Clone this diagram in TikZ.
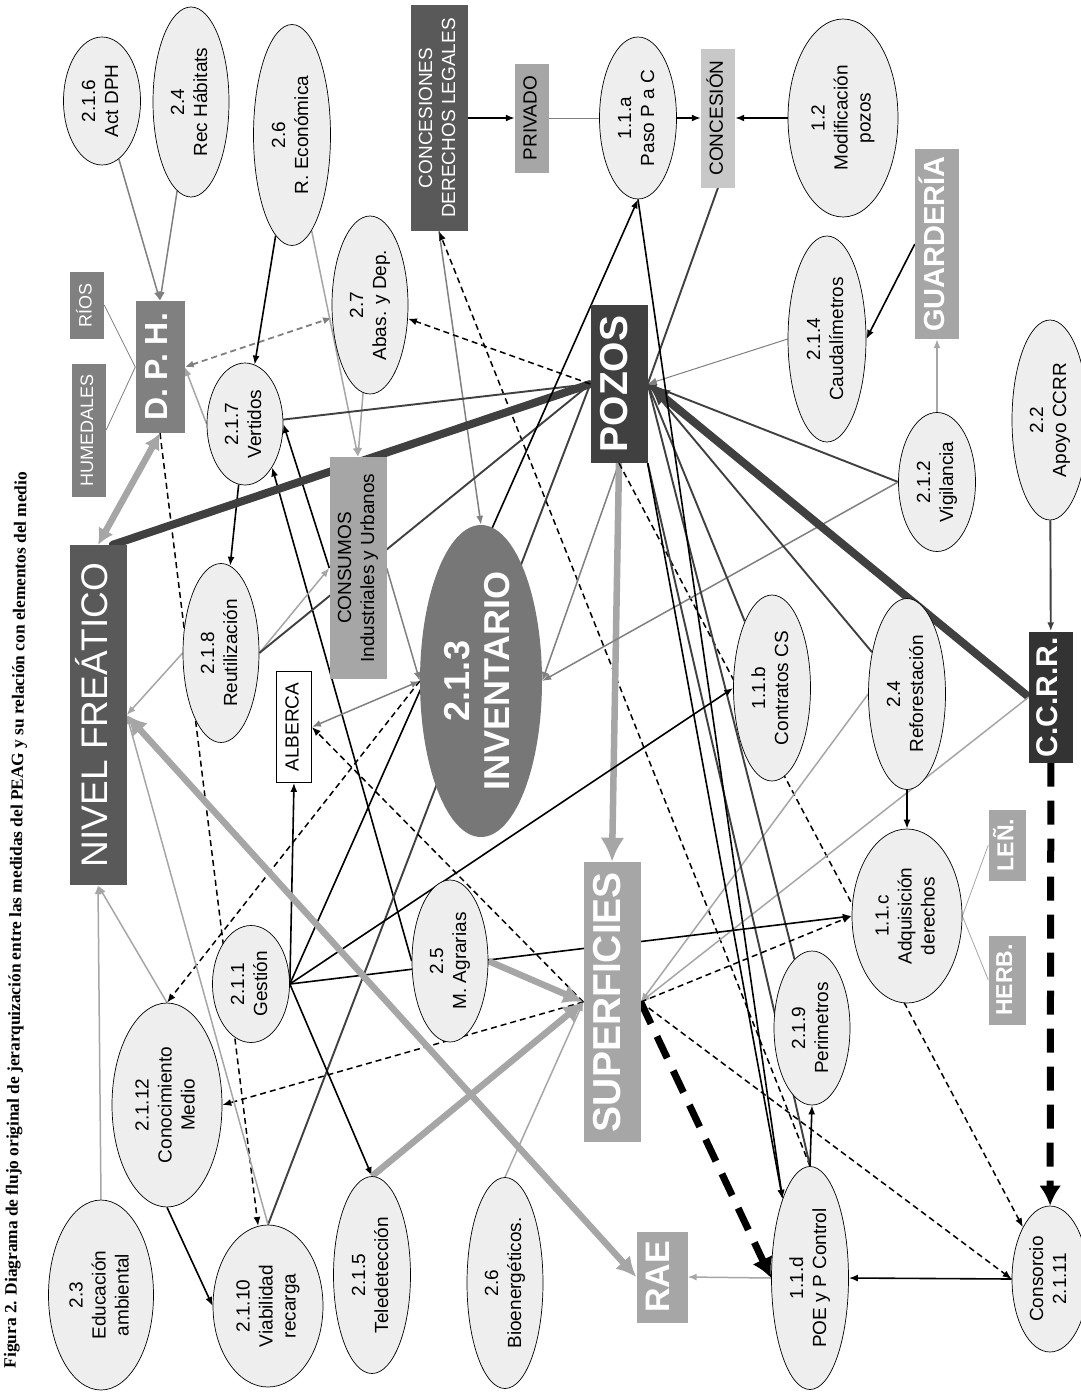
\documentclass[tikz,border=0pt]{standalone}
\usepackage{fontspec}
\setmainfont{Liberation Sans}
\newfontfamily\serifcap{Liberation Serif}
\usepackage{graphicx}
\usetikzlibrary{shapes.geometric,arrows.meta,backgrounds}

\definecolor{relleno}{HTML}{EEEEEE}
\definecolor{gris20}{HTML}{333333}
\definecolor{gris25}{HTML}{404040}
\definecolor{gris35}{HTML}{595959}
\definecolor{gris47}{HTML}{777777}
\definecolor{gris50}{HTML}{808080}
\definecolor{gris65}{HTML}{A6A6A6}
\definecolor{gris80}{HTML}{C8C8C8}

% texto girado, varias lineas
\newcommand{\giro}[1]{\rotatebox{90}{\begin{tabular}{@{}c@{}}#1\end{tabular}}}

\tikzset{
  medida/.style={ellipse, draw=black, line width=0.7pt, fill=relleno, inner sep=0pt, font=\fontsize{19}{23}\selectfont},
  caja/.style={rectangle, inner sep=0pt, font=\fontsize{19}{23}\selectfont},
  rotulo/.style={rectangle, inner sep=0pt, text=white},
  punta/.style={-{Latex[length=9pt,width=7pt]}},
  negra/.style={draw=black, line width=1.6pt, punta},
  oscura/.style={draw=gris25, line width=1.9pt},
  media/.style={draw=gris50, line width=1.5pt},
  clara/.style={draw=gris65, line width=1.5pt},
  discont/.style={draw=black, line width=1.5pt, dash pattern=on 6pt off 4pt},
  ancha/.style={draw=gris65, line width=6.5pt},
  gruesa/.style={draw=gris25, line width=8pt},
  disgruesa/.style={draw=black, line width=7pt, dash pattern=on 24pt off 14pt},
}

\begin{document}
\begin{tikzpicture}[x=1pt,y=-1pt]
  \useasboundingbox (0,0) rectangle (1081,1392);

  % pie de figura
  \node[rotate=89.3, font=\serifcap\bfseries\fontsize{17.3}{19}\selectfont] (titulo) at (17,920)
    {Figura 2. Diagrama de flujo original de jerarquización entre las medidas del PEAG y su relación con elementos del medio};

  % fila superior
  \node[medida, minimum width=77, minimum height=128] (act216) at (102,101) {\giro{2.1.6\\Act DPH}};
  \node[medida, minimum width=76, minimum height=190] (rec24) at (191,102) {\giro{2.4\\Rec Hábitats}};
  \node[medida, minimum width=77, minimum height=221] (reco26) at (292,135) {\giro{2.6\\R. Económica}};
  \node[medida, minimum width=76, minimum height=178] (abas27) at (370,305) {\giro{2.7\\Abas. y Dep.}};
  \node[caja, fill=gris35, text=white, minimum width=57, minimum height=226] (concesiones) at (439,118) {\giro{CONCESIONES\\DERECHOS LEGALES}};
  \node[caja, fill=gris65, minimum width=34, minimum height=109] (privado) at (532,118) {\giro{PRIVADO}};
  \node[medida, minimum width=77, minimum height=162] (paso) at (638,118) {\giro{1.1.a\\Paso P a C}};
  \node[caja, fill=gris80, minimum width=34, minimum height=139] (concesion) at (718,118) {\giro{CONCESIÓN}};
  \node[medida, minimum width=110, minimum height=198] (modif) at (843,118) {\giro{1.2\\Modificación\\pozos}};
  \node[rotulo, fill=gris65, minimum width=44, minimum height=190, font=\bfseries\fontsize{29}{33}\selectfont] (guarderia) at (937,244) {\giro{GUARDERÍA}};
  \node[medida, minimum width=78, minimum height=206] (caudal) at (827,339) {\giro{2.1.4\\Caudalímetros}};

  % D.P.H. y elementos del medio
  \node[caja, fill=gris50, text=white, minimum width=34, minimum height=67, font=\fontsize{18}{21}\selectfont] (rios) at (87,305) {\giro{RÍOS}};
  \node[caja, fill=gris50, text=white, minimum width=34, minimum height=133, font=\fontsize{18}{21}\selectfont] (humedales) at (89,430) {\giro{HUMEDALES}};
  \node[rotulo, fill=gris50, minimum width=49, minimum height=132, font=\bfseries\fontsize{32}{36}\selectfont] (dph) at (160,367) {\giro{D. P. H.}};
  \node[rotulo, fill=gris35, minimum width=57, minimum height=340, font=\fontsize{37}{42}\selectfont] (nivel) at (98,715) {\giro{NIVEL FREÁTICO}};
  \node[medida, minimum width=76, minimum height=122] (vert217) at (245,424) {\giro{2.1.7\\Vertidos}};
  \node[medida, minimum width=76, minimum height=179] (reut218) at (221,653) {\giro{2.1.8\\Reutilización}};
  \node[caja, fill=gris65, minimum width=57, minimum height=222] (consumos) at (358,568) {\giro{CONSUMOS\\Industriales y Urbanos}};
  \node[caja, fill=white, draw=black, line width=0.8pt, minimum width=35, minimum height=111] (alberca) at (294,727) {\giro{ALBERCA}};

  % centro
  \node[rotulo, fill=gris25, minimum width=57, minimum height=158, font=\bfseries\fontsize{39}{44}\selectfont] (pozos) at (619,384) {\giro{POZOS}};
  \node[ellipse, fill=gris47, text=white, inner sep=0pt, minimum width=122, minimum height=312, font=\bfseries\fontsize{36}{40}\selectfont] (invent) at (481,681) {\giro{2.1.3\\INVENTARIO}};
  \node[rotulo, fill=gris65, minimum width=57, minimum height=280, font=\bfseries\fontsize{39}{44}\selectfont] (superf) at (612,1002) {\giro{SUPERFICIES}};

  % lado derecho
  \node[medida, minimum width=77, minimum height=139] (vigil) at (937,482) {\giro{2.1.2\\Vigilancia}};
  \node[medida, minimum width=76, minimum height=200] (apoyo) at (1050,420) {\giro{2.2\\Apoyo CCRR}};
  \node[rotulo, fill=gris20, minimum width=44, minimum height=131, font=\bfseries\fontsize{30}{34}\selectfont] (ccrr) at (1051,697) {\giro{C.C.R.R.}};
  \node[medida, minimum width=77, minimum height=186] (contr) at (772,688) {\giro{1.1.b\\Contratos CS}};
  \node[medida, minimum width=77, minimum height=191] (refor) at (907,694) {\giro{2.4\\Reforestación}};
  \node[medida, minimum width=110, minimum height=174] (adqu) at (907,916) {\giro{1.1.c\\Adquisición\\derechos}};
  \node[rotulo, fill=gris65, minimum width=37, minimum height=71, font=\bfseries\fontsize{23}{26}\selectfont] (lena) at (1007,845) {\giro{LEÑ.}};
  \node[rotulo, fill=gris65, minimum width=37, minimum height=89, font=\bfseries\fontsize{23}{26}\selectfont] (herb) at (1007,980) {\giro{HERB.}};
  \node[medida, minimum width=76, minimum height=154] (perim) at (812,1028) {\giro{2.1.9\\Perimetros}};

  % fila inferior
  \node[medida, minimum width=77, minimum height=117] (gest) at (251,984) {\giro{2.1.1\\Gestión}};
  \node[medida, minimum width=76, minimum height=162] (agrar) at (450,961) {\giro{2.5\\M. Agrarias}};
  \node[medida, minimum width=110, minimum height=204] (conoc) at (167,1105) {\giro{2.1.12\\Conocimiento\\Medio}};
  \node[medida, minimum width=105, minimum height=190] (educ) at (101,1295) {\giro{2.3\\Educación\\ambiental}};
  \node[medida, minimum width=110, minimum height=162] (viab) at (268,1306) {\giro{2.1.10\\Viabilidad\\recarga}};
  \node[medida, minimum width=77, minimum height=197] (tele) at (372,1275) {\giro{2.1.5\\Teledetección}};
  \node[medida, minimum width=76, minimum height=211] (bioen) at (505,1283) {\giro{2.6\\Bioenergéticos.}};
  \node[rotulo, fill=gris65, minimum width=51, minimum height=91, font=\bfseries\fontsize{34}{38}\selectfont] (rae) at (662,1277) {\giro{RAE}};
  \node[medida, minimum width=77, minimum height=223] (poe) at (810,1278) {\giro{1.1.d\\POE y P Control}};
  \node[medida, minimum width=76, minimum height=146] (consor) at (1050,1279) {\giro{Consorcio\\2.1.11}};

  \begin{scope}[on background layer]
    \fill[white] (0,0) rectangle (1081,1392);
    % fila superior
    \draw[negra] (concesiones) -- (privado);
    \draw[media, line width=1pt] (privado) -- (paso);
    \draw[negra] (paso) -- (concesion);
    \draw[negra] (modif) -- (concesion);
    \draw[oscura] (concesion.south) -- (pozos.east);
    \draw[media, punta] (concesiones.south) -- (invent.north);
    \draw[discont, punta] (poe.north) -- (concesiones.south);

    % D.P.H.
    \draw[media, punta] (act216) -- (dph.north);
    \draw[media, punta] (rec24) -- (dph.north);
    \draw[media, line width=0.8pt] (rios.east) -- (dph.west);
    \draw[media, line width=0.8pt] (humedales.east) -- (dph.west);
    \draw[media, line width=1.8pt, dash pattern=on 6pt off 4pt, {Latex[length=9pt,width=7pt]}-{Latex[length=9pt,width=7pt]}] (dph.east) -- (abas27);
    \draw[clara, punta] (vert217.west) -- (dph.east);
    \draw[discont, punta] (dph.south) -- (viab);
    \draw[ancha, {Latex[length=16pt,width=17pt]}-{Latex[length=16pt,width=17pt]}] (nivel.north) -- (dph.south);

    % vertidos y consumos
    \draw[negra] (reco26) -- (vert217);
    \draw[clara, punta] (reco26) -- (consumos.north);
    \draw[clara, punta] (abas27) -- (consumos.north);
    \draw[negra] (vert217) -- (reut218);
    \draw[negra] (consumos.west) -- (vert217.east);
    \draw[negra] (agrar.west) -- (vert217.south east);
    \draw[clara, punta] (reut218.east) -- (consumos.west);
    \draw[clara, punta] (reut218.west) -- (nivel.east);
    \draw[media, punta] (consumos.east) -- (invent.west);

    % pozos
    \draw[gruesa, line cap=round] ([xshift=-14pt]nivel.north east) -- (pozos.west);
    \draw[oscura] (pozos.west) -- (vert217);
    \draw[oscura] (pozos.west) -- (reut218.east);
    \draw[oscura] (pozos.west) -- (viab.north);
    \draw[discont, punta] (pozos.west) -- (abas27);
    \draw[media, punta] (pozos.south) -- (invent.east);
    \draw[ancha, -{Latex[length=24pt,width=24pt]}] (pozos.south) -- (superf.north);
    \draw[discont, punta] (pozos.south) -- (consor.north west);
    \draw[media, line width=1pt, punta] (caudal.west) -- (pozos.east);
    \draw[oscura, punta] (vigil.west) -- (pozos.east);
    \draw[media, punta] (vigil.west) -- (invent.east);
    \draw[clara, punta] (vigil) -- (guarderia);
    \draw[negra] (guarderia.west) -- (caudal.east);
    \draw[gruesa, -{Latex[length=22pt,width=20pt]}] (ccrr.west) -- (pozos.east);
    \draw[oscura, punta] (apoyo) -- (ccrr);
    \draw[disgruesa, -{Latex[length=20pt,width=22pt]}] (ccrr) -- (consor);
    \draw[clara, punta] (ccrr.west) -- (superf.east);
    \draw[clara, punta] (refor.west) -- (superf.east);
    \draw[negra] (refor) -- (adqu);
    \draw[oscura] (pozos.east) -- (refor);
    \draw[oscura] (pozos.east) -- (contr);
    \draw[oscura] (pozos.east) -- (perim);
    \draw[oscura] (pozos.south east) -- (poe.north);
    \draw[negra] (pozos.south east) -- (poe.north west);
    \draw[negra] (paso.south) -- (poe.north west);

    % gestion
    \draw[negra] (gest.east) -- (paso.south);
    \draw[negra] (gest.east) -- (contr.west);
    \draw[negra] (gest.east) -- (adqu.west);
    \draw[negra] (gest.east) -- (tele.north);
    \draw[negra] (gest.east) -- (alberca.south);

    % superficies
    \draw[discont, punta] (superf.east) -- (adqu.west);
    \draw[discont, punta] (superf.east) -- (consor.west);
    \draw[discont, punta] (superf.west) -- (conoc.east);
    \draw[discont, punta] (superf.west) -- (alberca.east);
    \draw[discont, punta] (invent.west) -- (conoc.north);
    \draw[media, {Latex[length=9pt,width=7pt]}-{Latex[length=9pt,width=7pt]}] (invent.west) -- (alberca.east);
    \draw[ancha, -{Latex[length=20pt,width=20pt]}] (tele.north) -- (superf.west);
    \draw[ancha, -{Latex[length=20pt,width=20pt]}] (agrar.east) -- (superf.west);
    \draw[clara, punta] (bioen.north) -- (superf.west);
    \draw[disgruesa, -{Latex[length=20pt,width=22pt]}] (superf.east) -- (poe.west);

    % abajo
    \draw[ancha, {Latex[length=20pt,width=20pt]}-{Latex[length=20pt,width=20pt]}] (nivel.east) -- (rae.west);
    \draw[clara, punta] (poe.west) -- (rae.east);
    \draw[negra] (consor.west) -- (poe.east);
    \draw[negra] (poe.north) -- (perim.south);
    \draw[clara, punta] (educ.north) -- (nivel.south);
    \draw[clara, punta] (conoc.north) -- (nivel.south);
    \draw[clara, punta] (viab.north) -- (nivel.east);
    \draw[negra] (conoc.south) -- (viab.west);
    \draw[clara, line width=0.8pt] (adqu.east) -- (lena.west);
    \draw[clara, line width=0.8pt] (adqu.east) -- (herb.west);
  \end{scope}
\end{tikzpicture}
\end{document}
